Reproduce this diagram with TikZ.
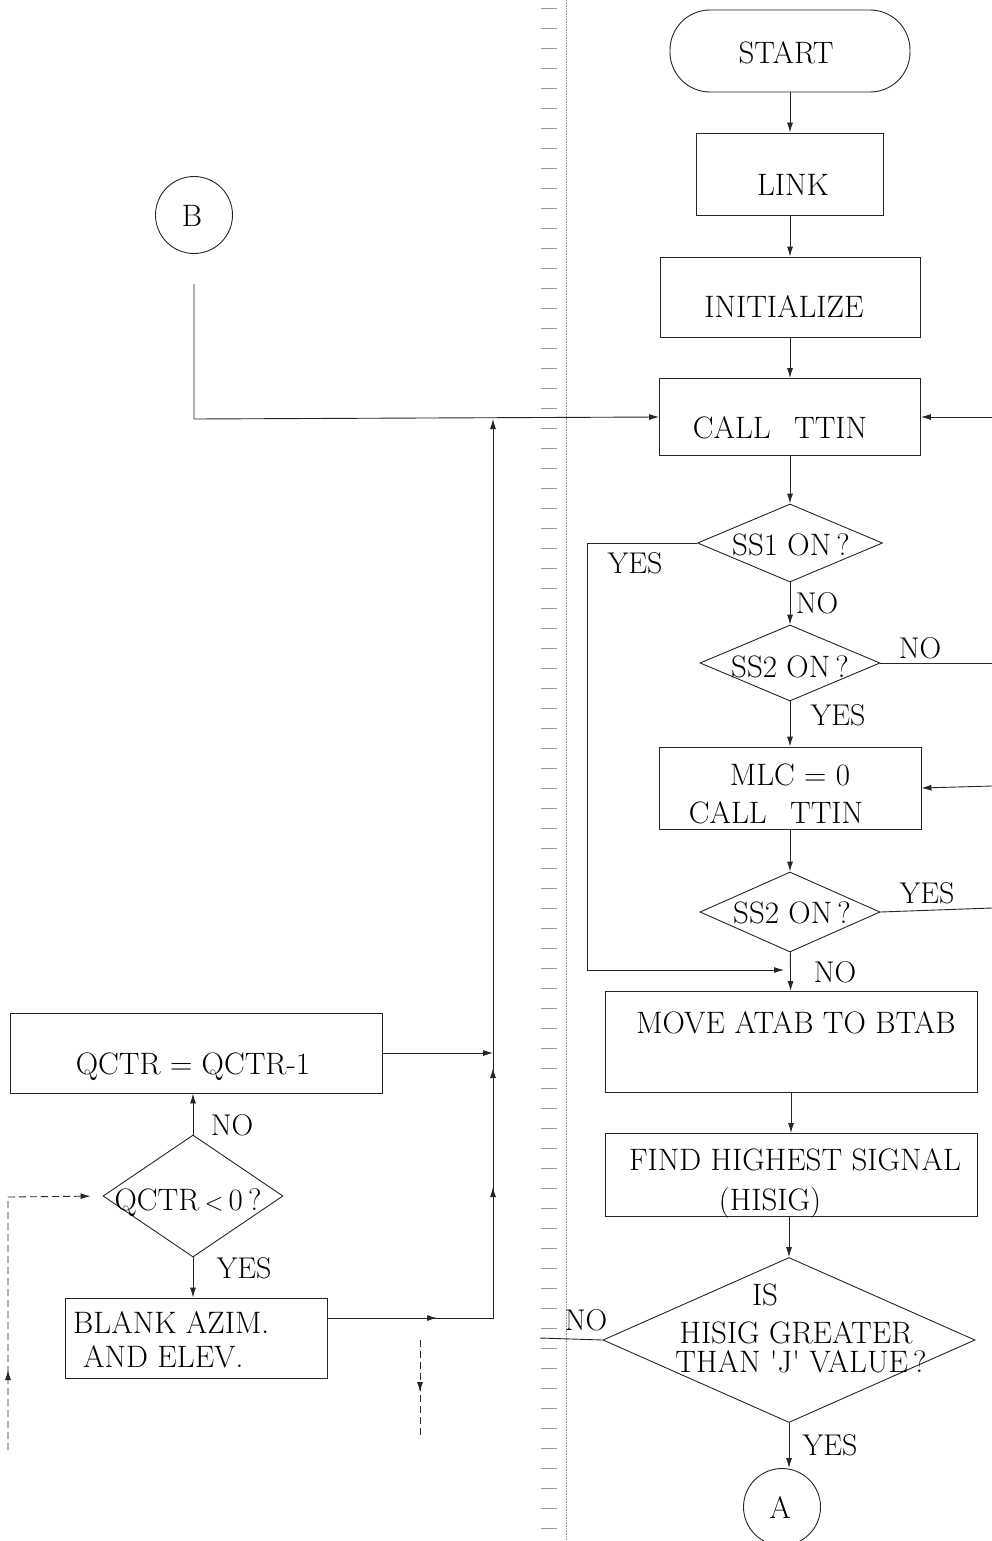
\documentclass[tikz,border=0pt]{standalone}
\usetikzlibrary{arrows.meta,shapes.geometric,decorations.markings}
\begin{document}
\begin{tikzpicture}[x=1pt,y=-1pt,
  ln/.style={draw=black!85,line width=0.9pt},
  box/.style={ln,rectangle,inner sep=0pt},
  dia/.style={ln,diamond,inner sep=0pt},
  circ/.style={ln,circle,inner sep=0pt,minimum size=77pt},
  txt/.style={inner sep=0pt,font=\fontsize{31}{35}\selectfont},
  lbl/.style={inner sep=0pt,font=\fontsize{30}{34}\selectfont},
  arr/.style={ln,-{Latex[length=10pt,width=6pt]}},
  marrow/.style={postaction={decorate,decoration={markings,mark=at position #1 with {\arrow{Latex[length=10pt,width=6pt]}}}}},
  brk/.style={dash pattern=on 7pt off 4pt},
  spine/.style={draw=black!40,line width=0.6pt}
]
\useasboundingbox (0,0) rectangle (992,1541);

% binding spine
\draw[spine,densely dotted] (566,0) -- (566,1541);
\foreach \yy in {8,28,...,1528} \draw[spine] (541,\yy) -- (557,\yy);

% right column
\node[box,rounded corners=40pt,minimum width=240pt,minimum height=82pt] (start) at (790,51) {};
\node[txt] (tstart) at (786,53) {START};
\node[box,minimum width=187pt,minimum height=82pt] (link) at (790,174) {};
\node[txt] (tlink) at (793,185) {LINK};
\node[box,minimum width=260pt,minimum height=80pt] (init) at (790,297) {};
\node[txt] (tinit) at (784,307) {INITIALIZE};
\node[box,minimum width=261pt,minimum height=77pt] (call) at (790,417) {};
\node[txt] (tcall) at (780,428) {CALL\hspace{0.75em}TTIN};
\node[dia,minimum width=185pt,minimum height=78pt] (ss1) at (790,543) {};
\node[txt] (tss1) at (791,545) {SS1 ON\,?};
\node[dia,minimum width=180pt,minimum height=76pt] (ss2a) at (790,663) {};
\node[txt] (tss2a) at (790,667) {SS2 ON\,?};
\node[box,minimum width=262pt,minimum height=82pt] (mlc) at (790,788) {};
\node[txt] (tmlc1) at (790,775) {MLC = 0};
\node[txt] (tmlc2) at (776,813) {CALL\hspace{0.75em}TTIN};
\node[dia,minimum width=180pt,minimum height=80pt] (ss2b) at (790,912) {};
\node[txt] (tss2b) at (792,913) {SS2 ON\,?};
\node[box,minimum width=372pt,minimum height=101pt] (move) at (791,1042) {};
\node[txt] (tmove) at (796,1023) {MOVE ATAB TO BTAB};
\node[box,minimum width=372pt,minimum height=83pt] (find) at (791,1175) {};
\node[txt] (tfind1) at (795,1160) {FIND HIGHEST SIGNAL};
\node[txt] (tfind2) at (770,1203) {(HISIG)};
\node[dia,minimum width=372pt,minimum height=165pt] (hisig) at (789,1340) {};
\node[txt] (this1) at (765,1295) {IS};
\node[txt] (this2) at (796,1333) {HISIG GREATER};
\node[txt] (this3) at (801,1362) {THAN \textquotesingle J\textquotesingle\ VALUE\,?};
\node[circ] (A) at (782,1507) {};
\node[txt] (tA) at (780,1508) {A};

% left column
\node[circ] (B) at (194,215) {};
\node[txt] (tB) at (192,216) {B};
\node[box,minimum width=372pt,minimum height=80pt] (qctr) at (196,1053) {};
\node[txt] (tqctr) at (193,1067) {QCTR = QCTR-1};
\node[dia,minimum width=180pt,minimum height=122pt] (qdia) at (193,1196) {};
\node[txt] (tqdia) at (188,1203) {QCTR\,$<$\,0\,?};
\node[box,minimum width=262pt,minimum height=80pt] (blank) at (196,1338) {};
\node[txt,anchor=west] (tbl1) at (73,1323) {BLANK AZIM.};
\node[txt,anchor=west] (tbl2) at (83,1357) {AND ELEV.};

% free ends and bends
\coordinate (yesL) at (587,543);
\coordinate (yesB) at (587,970);
\coordinate (j1) at (784,970);
\coordinate (rno) at (992,663);
\coordinate (ryes) at (992,908);
\coordinate (rin1) at (992,417);
\coordinate (rin2) at (992,786);
\coordinate (hno) at (540,1338);
\coordinate (bcorner) at (194,419);
\coordinate (vtop) at (493,419);
\coordinate (vbot) at (493,1318);
\coordinate (blout) at (327,1318);
\coordinate (qin) at (493,1053);
\coordinate (lbot) at (8,1450);
\coordinate (ltop) at (8,1197);
\coordinate (dtop) at (420,1340);
\coordinate (dbot) at (420,1437);

% main flow
\draw[arr] (start) -- (link);
\draw[arr] (link) -- (init);
\draw[arr] (init) -- (call);
\draw[arr] (call) -- (ss1);
\draw[arr] (ss1) -- (ss2a);
\draw[arr] (ss2a) -- (mlc);
\draw[arr] (mlc) -- (ss2b);
\draw[arr] (ss2b) -- (move);
\draw[arr] (move) -- (find);
\draw[arr] (find.south -| hisig.north) -- (hisig.north);
\draw[arr] (hisig.south) -- (hisig.south |- A.north);

% branches on the right
\draw[arr] (ss1.west) -- (yesL) -- (yesB) -- (j1);
\draw[ln] (ss2a.east) -- (rno);
\draw[ln] (ss2b.east) -- (ryes);
\draw[arr] (rin1) -- (call.east);
\draw[arr] (rin2) -- (mlc.east);
\draw[ln] (hisig.west) -- (hno);

% left side connectors
\draw[arr,shorten <=30pt] (B.south) -- (bcorner) -- (call.west);
\draw[arr,marrow=110pt,marrow=297pt,marrow=416pt] (blout) -- (vbot) -- (vtop);
\draw[arr] (qctr.east) -- (qin);
\draw[arr] (qdia.north) -- (qdia.north |- qctr.south);
\draw[arr] (qdia.south) -- (qdia.south |- blank.north);
\draw[arr,brk,marrow=80pt,shorten >=12pt] (lbot) -- (ltop) -- (qdia.west);
\draw[ln,brk,marrow=52pt] (dtop) -- (dbot);

% labels
\node[lbl] (l1) at (635,563) {YES};
\node[lbl] (l2) at (817,603) {NO};
\node[lbl] (l3) at (920,648) {NO};
\node[lbl] (l4) at (838,715) {YES};
\node[lbl] (l5) at (927,893) {YES};
\node[lbl] (l6) at (835,972) {NO};
\node[lbl] (l7) at (586,1320) {NO};
\node[lbl] (l8) at (830,1445) {YES};
\node[lbl] (l9) at (232,1125) {NO};
\node[lbl] (l10) at (244,1268) {YES};
\end{tikzpicture}
\end{document}
